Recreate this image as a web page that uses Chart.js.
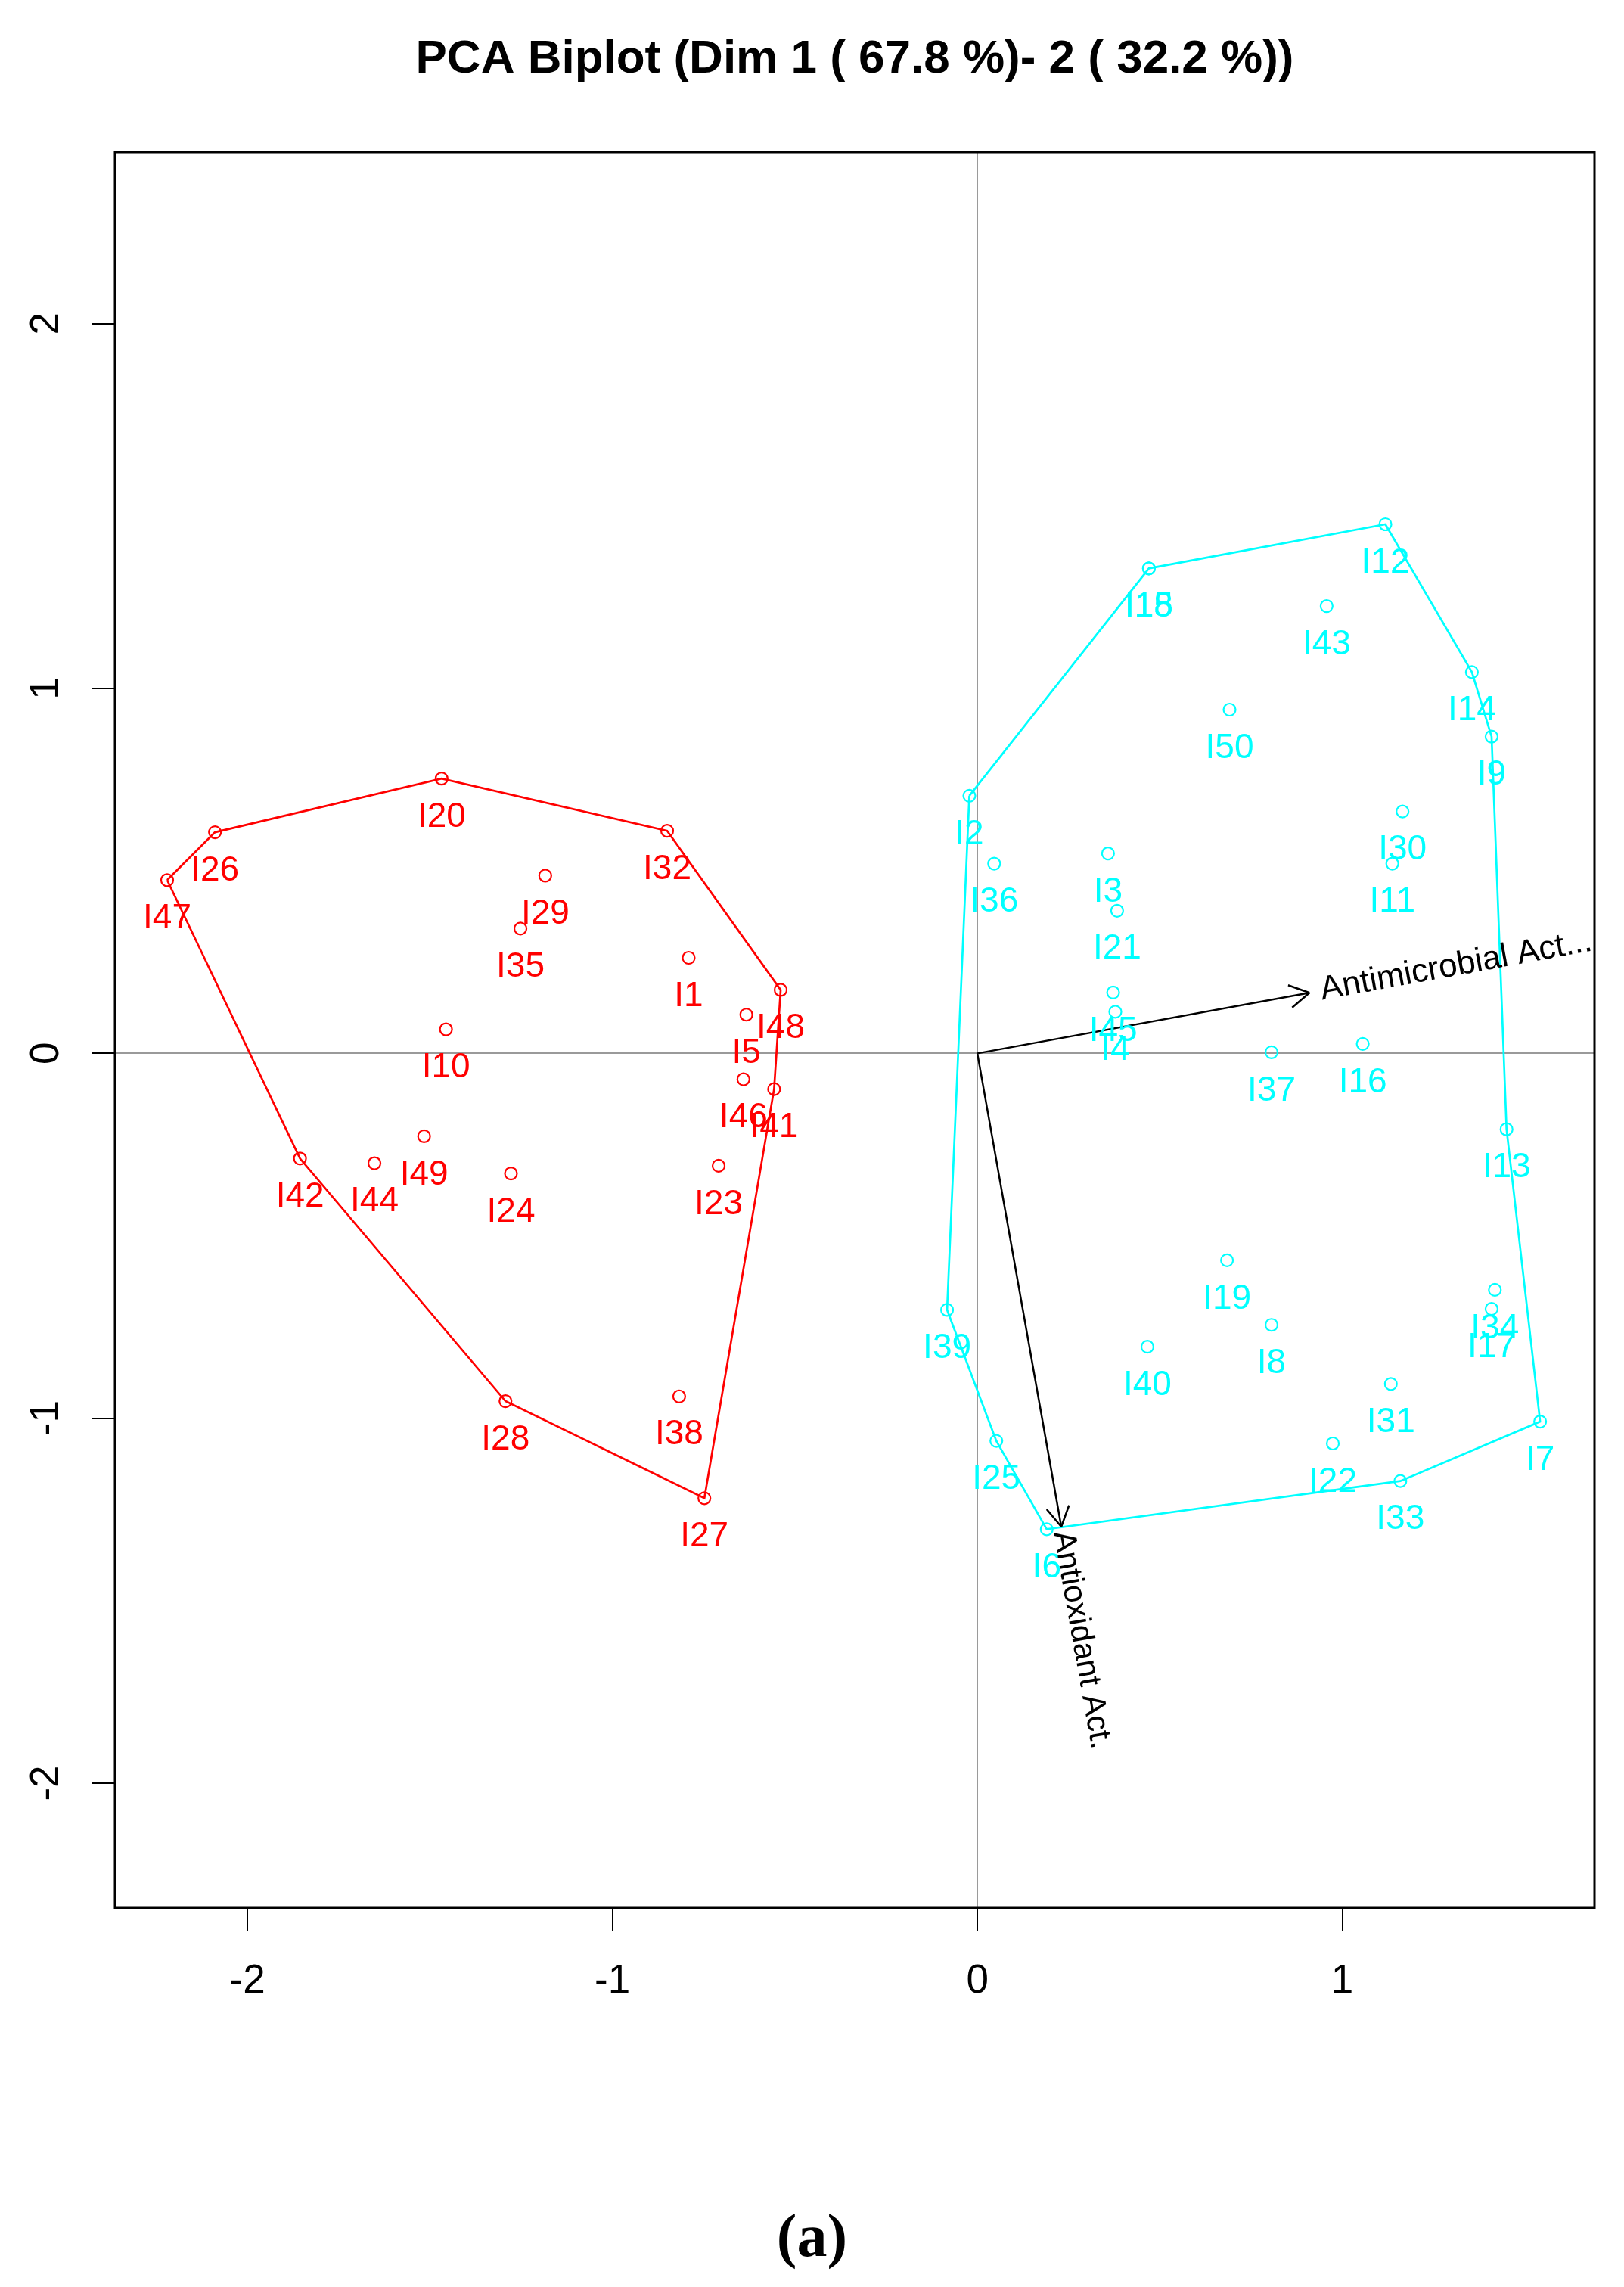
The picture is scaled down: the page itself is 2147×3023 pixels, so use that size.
<!DOCTYPE html>
<html><head><meta charset="utf-8">
<script src="https://cdn.jsdelivr.net/npm/chart.js@4.4.1/dist/chart.umd.min.js"></script>
<style>html,body{margin:0;padding:0;background:#fff;}canvas{display:block;}</style>
</head><body>
<canvas id="c" width="2147" height="3023"></canvas>
<script>
// ---- data ----
const redNames = ['I1','I5','I10','I20','I23','I24','I26','I27','I28','I29','I32','I35','I38','I41','I42','I44','I46','I47','I48','I49'];
const redX = [-0.791,-0.633,-1.456,-1.468,-0.709,-1.278,-2.089,-0.748,-1.293,-1.184,-0.850,-1.252,-0.817,-0.557,-1.856,-1.652,-0.641,-2.220,-0.539,-1.516];
const redY = [0.262,0.106,0.066,0.753,-0.308,-0.329,0.606,-1.219,-0.953,0.487,0.610,0.342,-0.940,-0.098,-0.288,-0.301,-0.071,0.475,0.174,-0.227];
const redHull = ['I47','I26','I20','I32','I48','I41','I27','I28','I42','I47'];

const cyanNames = ['I2','I3','I4','I6','I7','I8','I9','I11','I12','I13','I14','I15','I16','I17','I18','I19','I21','I22','I25','I30','I31','I33','I34','I36','I37','I39','I40','I43','I45','I50'];
const cyanX = [-0.022,0.358,0.378,0.190,1.542,0.806,1.409,1.137,1.118,1.450,1.355,0.470,1.056,1.409,0.470,0.684,0.383,0.974,0.052,1.165,1.133,1.159,1.418,0.046,0.806,-0.083,0.466,0.957,0.372,0.691];
const cyanY = [0.706,0.548,0.114,-1.304,-1.009,-0.744,0.868,0.520,1.450,-0.208,1.045,1.329,0.026,-0.700,1.329,-0.567,0.391,-1.069,-1.062,0.663,-0.906,-1.172,-0.648,0.520,0.003,-0.703,-0.804,1.226,0.167,0.942];
const cyanHull = ['I2','I15','I12','I14','I9','I13','I7','I33','I6','I25','I39','I2'];

const varNames = ['Antimicrobial Act....','Antioxidant Act.'];
const varX = [0.910, 0.230];
const varY = [0.166, -1.297];

const xTicks = [-2,-1,0,1];
const yTicks = [-2,-1,0,1,2];
const xLimits = [-2.363, 1.691];
const yLimits = [-2.342, 2.470];

const titleText = 'PCA Biplot (Dim 1 ( 67.8 %)- 2 ( 32.2 %))';
const captionText = '(a)';

// ---- build library structures ----
const RED = '#FF0000', CYAN = '#00FFFF';
const pts = (xs, ys) => xs.map((v, i) => ({x: v, y: ys[i]}));
const hullPts = (order, names, xs, ys) => order.map(n => { const i = names.indexOf(n); return {x: xs[i], y: ys[i]}; });
const groups = [
  {names: redNames, x: redX, y: redY, color: RED},
  {names: cyanNames, x: cyanX, y: cyanY, color: CYAN}
];
const NARROW = '"Liberation Sans Narrow", "Liberation Sans", Arial, sans-serif';

const overlay = {
  id: 'overlay',
  beforeDraw(chart) {
    const c = chart.ctx; c.save(); c.fillStyle = '#fff'; c.fillRect(0, 0, chart.width, chart.height); c.restore();
  },
  afterDatasetsDraw(chart) {
    const c = chart.ctx, xs = chart.scales.x, ys = chart.scales.y, a = chart.chartArea;
    c.save();
    c.beginPath(); c.rect(a.left, a.top, a.right - a.left, a.bottom - a.top); c.clip();
    c.font = '46px ' + NARROW; c.textAlign = 'center'; c.textBaseline = 'middle';
    groups.forEach(g => {
      c.fillStyle = g.color;
      g.names.forEach((n, i) => c.fillText(n, xs.getPixelForValue(g.x[i]), ys.getPixelForValue(g.y[i]) + 51));
    });
    const ox = xs.getPixelForValue(0), oy = ys.getPixelForValue(0);
    c.strokeStyle = '#000'; c.fillStyle = '#000'; c.lineWidth = 2.5;
    varNames.forEach((n, i) => {
      const tx = xs.getPixelForValue(varX[i]), ty = ys.getPixelForValue(varY[i]);
      const ang = Math.atan2(ty - oy, tx - ox);
      c.beginPath();
      [Math.PI / 6, -Math.PI / 6].forEach(d => { c.moveTo(tx, ty); c.lineTo(tx - 30 * Math.cos(ang + d), ty - 30 * Math.sin(ang + d)); });
      c.stroke();
      c.save();
      const off = i === 0 ? 15 : 6;
      c.translate(tx + off * Math.cos(ang), ty + off * Math.sin(ang)); c.rotate(ang);
      c.font = (i === 0 ? '44px' : '42px') + ' "Liberation Sans", Arial, sans-serif'; c.textAlign = 'left'; c.textBaseline = 'middle';
      c.fillText(n, 0, 0);
      c.restore();
    });
    c.restore();
  },
  afterDraw(chart) {
    const c = chart.ctx, a = chart.chartArea;
    c.save(); c.strokeStyle = '#000'; c.lineWidth = 3;
    c.strokeRect(a.left, a.top, a.right - a.left, a.bottom - a.top);
    c.restore();
  }
};

const zeroGrid = ctx => (ctx.tick && ctx.tick.value === 0) ? '#9a9a9a' : 'rgba(0,0,0,0)';

new Chart(document.getElementById('c'), {
  type: 'scatter',
  data: {
    datasets: [
      {data: hullPts(redHull, redNames, redX, redY), showLine: true, borderColor: RED, borderWidth: 2.7, pointRadius: 0, fill: false},
      {data: hullPts(cyanHull, cyanNames, cyanX, cyanY), showLine: true, borderColor: CYAN, borderWidth: 2.7, pointRadius: 0, fill: false},
      {data: pts(redX, redY), pointStyle: 'circle', pointRadius: 8, borderColor: RED, backgroundColor: 'rgba(0,0,0,0)', pointBorderWidth: 2.2},
      {data: pts(cyanX, cyanY), pointStyle: 'circle', pointRadius: 8, borderColor: CYAN, backgroundColor: 'rgba(0,0,0,0)', pointBorderWidth: 2.2},
      {data: [{x: 0, y: 0}, {x: varX[0], y: varY[0]}], showLine: true, borderColor: '#000', borderWidth: 2.5, pointRadius: 0},
      {data: [{x: 0, y: 0}, {x: varX[1], y: varY[1]}], showLine: true, borderColor: '#000', borderWidth: 2.5, pointRadius: 0}
    ]
  },
  options: {
    responsive: false,
    animation: false,
    events: [],
    layout: {padding: {left: 0, right: 0, top: 0, bottom: 0}},
    plugins: {
      legend: {display: false},
      tooltip: {enabled: false},
      title: {display: true, text: titleText, fullSize: false, color: '#000',
        font: {family: '"Liberation Sans", Arial, sans-serif', size: 62, weight: 'bold', lineHeight: 1.2},
        padding: {top: 42, bottom: 84.6}},
      subtitle: {display: true, text: captionText, position: 'bottom', fullSize: true, color: '#000',
        font: {family: '"Liberation Serif", "DejaVu Serif", serif', size: 80, weight: 'bold', lineHeight: 1.2},
        padding: {top: 191, bottom: 14}}
    },
    scales: {
      x: {type: 'linear', position: 'bottom', min: xLimits[0], max: xLimits[1],
        afterBuildTicks: s => { s.ticks = xTicks.map(v => ({value: v})); },
        afterFit: s => { s.height = 200; },
        grid: {color: zeroGrid, lineWidth: 2, drawTicks: true, tickLength: 30, tickColor: '#000', tickWidth: 2},
        border: {display: false},
        ticks: {color: '#000', font: {family: NARROW, size: 53, lineHeight: 1.2}, padding: 36, autoSkip: false, maxRotation: 0, callback: v => String(v)}
      },
      y: {type: 'linear', position: 'left', min: yLimits[0], max: yLimits[1],
        afterBuildTicks: s => { s.ticks = yTicks.map(v => ({value: v})); },
        afterFit: s => { s.width = 152; },
        grid: {color: zeroGrid, lineWidth: 2, drawTicks: true, tickLength: 30, tickColor: '#000', tickWidth: 2},
        border: {display: false},
        ticks: {color: '#000', font: {family: NARROW, size: 53, lineHeight: 1.2}, padding: 36, autoSkip: false, minRotation: 90, maxRotation: 90, crossAlign: 'center', callback: v => String(v)}
      },
      yRight: {type: 'linear', position: 'right', min: yLimits[0], max: yLimits[1],
        afterFit: s => { s.width = 39; },
        grid: {display: false}, border: {display: false}, ticks: {display: false}
      }
    }
  },
  plugins: [overlay]
});
</script>
</body></html>
